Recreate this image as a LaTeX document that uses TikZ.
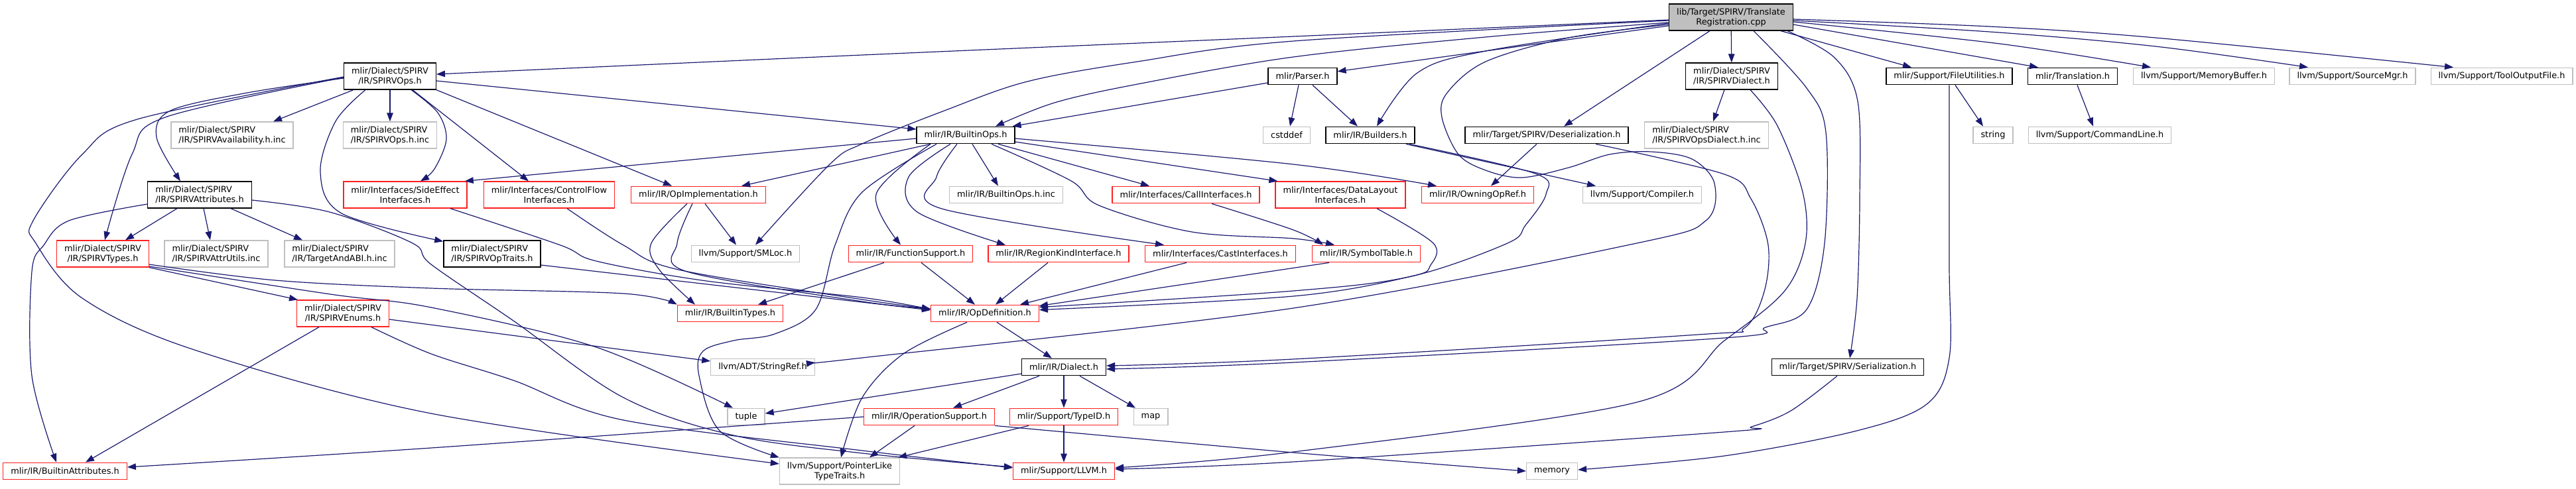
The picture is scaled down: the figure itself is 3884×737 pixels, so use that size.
\documentclass[tikz,border=0pt]{standalone}
\usepackage{fontspec}
\setmainfont{DejaVu Sans}
\usepackage{tikz}
\usetikzlibrary{arrows.meta}
\definecolor{edgeblue}{HTML}{191970}
\definecolor{nodegrey}{HTML}{BFBFBF}
\definecolor{truncred}{HTML}{FF2020}

\begin{document}
\begin{tikzpicture}[
  x=1pt, y=-1pt,
  >={Triangle[length=13pt,width=9.5pt]},
  file/.style={draw, rectangle, line width=1.3pt,
               font=\fontsize{12.9pt}{15pt}\selectfont,
               inner xsep=11.5pt, inner ysep=2pt, minimum height=25.5pt,
               align=center},
  doc/.style={file, draw=black},
  trunc/.style={file, draw=truncred},
  ext/.style={file, draw=nodegrey},
  srcfile/.style={file, draw=black, fill=nodegrey},
  two/.style={minimum height=40pt},
  lft/.style={align=left},
  arr/.style={->, draw=edgeblue, line width=1.2pt},
  crv/.style={arr, smooth, tension=0.55}]

\useasboundingbox (0,0) rectangle (3884,737);

% Source file
\node[srcfile, two] (srcroot) at (2610,26) {lib/Target/SPIRV/Translate\\Registration.cpp};

% Row 1: direct includes
\node[doc, two]      (ops)      at (588,115)  {mlir/Dialect/SPIRV\\/IR/SPIRVOps.h};
\node[doc]           (parser)   at (1964,115) {mlir/Parser.h};
\node[doc, two, lft] (dialspv)  at (2611,115) {mlir/Dialect/SPIRV\\/IR/SPIRVDialect.h};
\node[doc]           (fileutil) at (2939,115) {mlir/Support/FileUtilities.h};
\node[doc]           (transl)   at (3125,115) {mlir/Translation.h};
\node[ext]           (membuf)   at (3323,115) {llvm/Support/MemoryBuffer.h};
\node[ext]           (srcmgr)   at (3547,115) {llvm/Support/SourceMgr.h};
\node[ext]           (toolout)  at (3772,115) {llvm/Support/ToolOutputFile.h};

% Row 2
\node[ext, two, lft] (avail)      at (350,204)  {mlir/Dialect/SPIRV\\/IR/SPIRVAvailability.h.inc};
\node[ext, two, lft] (opsinc)     at (588,204)  {mlir/Dialect/SPIRV\\/IR/SPIRVOps.h.inc};
\node[doc]           (bops)       at (1456,204) {mlir/IR/BuiltinOps.h};
\node[ext]           (cstddef)    at (1940,204) {cstddef};
\node[doc]           (builders)   at (2066,204) {mlir/IR/Builders.h};
\node[doc]           (deser)      at (2332,204) {mlir/Target/SPIRV/Deserialization.h};
\node[ext, two, lft] (opsdialinc) at (2573,204) {mlir/Dialect/SPIRV\\/IR/SPIRVOpsDialect.h.inc};
\node[ext]           (string)     at (3005,204) {string};
\node[ext]           (cmdline)    at (3166,204) {llvm/Support/CommandLine.h};

% Row 3
\node[doc, two, lft] (attrs)    at (301,294)  {mlir/Dialect/SPIRV\\/IR/SPIRVAttributes.h};
\node[trunc, two]    (sideeff)  at (611,294)  {mlir/Interfaces/SideEffect\\Interfaces.h};
\node[trunc, two]    (ctrlflow) at (828,294)  {mlir/Interfaces/ControlFlow\\Interfaces.h};
\node[trunc]         (opimpl)   at (1053,294) {mlir/IR/OpImplementation.h};
\node[ext]           (bopsinc)  at (1517,294) {mlir/IR/BuiltinOps.h.inc};
\node[trunc]         (callif)   at (1788,294) {mlir/Interfaces/CallInterfaces.h};
\node[trunc, two]    (dlayout)  at (2021,294) {mlir/Interfaces/DataLayout\\Interfaces.h};
\node[trunc]         (owning)   at (2228,294) {mlir/IR/OwningOpRef.h};
\node[ext]           (compiler) at (2476,294) {llvm/Support/Compiler.h};

% Row 4
\node[trunc, two]    (types)     at (155,383)  {mlir/Dialect/SPIRV\\/IR/SPIRVTypes.h};
\node[ext, two, lft] (attrutils) at (326,383)  {mlir/Dialect/SPIRV\\/IR/SPIRVAttrUtils.inc};
\node[ext, two, lft] (abi)       at (512,383)  {mlir/Dialect/SPIRV\\/IR/TargetAndABI.h.inc};
\node[doc, two, lft] (optraits)  at (742,383)  {mlir/Dialect/SPIRV\\/IR/SPIRVOpTraits.h};
\node[ext]           (smloc)     at (1124,383) {llvm/Support/SMLoc.h};
\node[trunc]         (funcsup)   at (1373,383) {mlir/IR/FunctionSupport.h};
\node[trunc]         (regkind)   at (1596,383) {mlir/IR/RegionKindInterface.h};
\node[trunc]         (castif)    at (1840,383) {mlir/Interfaces/CastInterfaces.h};
\node[trunc]         (symtab)    at (2060,383) {mlir/IR/SymbolTable.h};

% Rows 5 to 8
\node[trunc, two] (enums)   at (517,473)  {mlir/Dialect/SPIRV\\/IR/SPIRVEnums.h};
\node[trunc]      (btypes)  at (1101,473) {mlir/IR/BuiltinTypes.h};
\node[trunc]      (opdef)   at (1485,473) {mlir/IR/OpDefinition.h};
\node[ext]        (strref)  at (1150,554) {llvm/ADT/StringRef.h};
\node[doc]        (dialect) at (1604,554) {mlir/IR/Dialect.h};
\node[doc]        (serial)  at (2786,554) {mlir/Target/SPIRV/Serialization.h};
\node[ext]        (tuple)   at (1125,629) {tuple};
\node[trunc]      (opsup)   at (1401,629) {mlir/IR/OperationSupport.h};
\node[trunc]      (typeid)  at (1604,629) {mlir/Support/TypeID.h};
\node[ext]        (map)     at (1735,629) {map};
\node[trunc]      (battrs)  at (98,711)   {mlir/IR/BuiltinAttributes.h};
\node[ext, two]   (ptrlike) at (1266,711) {llvm/Support/PointerLike\\TypeTraits.h};
\node[trunc]      (llvmh)   at (1604,711) {mlir/Support/LLVM.h};
\node[ext]        (memory)  at (2340,711) {memory};

% Includes of the source file
\draw[crv] plot coordinates {([yshift=-4pt]srcroot.west) (1950,55) (1300,83) ([yshift=3pt]ops.east)};
\draw[arr] (srcroot) -- (parser);
\draw[crv] plot coordinates {([yshift=-8pt]srcroot.west) (2250,55) (1950,86) (1715,127) (1590,155) ([xshift=45pt]bops.north)};
\draw[crv] plot coordinates {([yshift=-9pt]srcroot.west) (2240,77) (2137,110) ([xshift=10pt]builders.north)};
\draw[arr] ([xshift=-32pt]srcroot.south) -- ([xshift=26pt]deser.north);
\draw[arr] (srcroot) -- (dialspv);
\draw[arr] ([xshift=75pt]srcroot.south) -- ([xshift=-57pt]fileutil.north);
\draw[arr] ([yshift=-11pt]srcroot.east) -- ([xshift=-52pt]transl.north);
\draw[crv] plot coordinates {([yshift=-7pt]srcroot.east) (3015,66) ([xshift=-80pt]membuf.north)};
\draw[crv] plot coordinates {([yshift=-5pt]srcroot.east) (3000,48) (3250,70) ([xshift=-67pt]srcmgr.north)};
\draw[crv] plot coordinates {([yshift=-3pt]srcroot.east) (3000,40) (3250,57) ([xshift=-73pt]toolout.north)};
\draw[crv] plot coordinates {([xshift=85pt]srcroot.south) (2766,87) (2801,153) (2804,300) (2800,450) ([xshift=3pt]serial.north)};
\draw[crv] plot coordinates {([xshift=34pt]srcroot.south) (2724,133) (2753,200) (2751,367) (2724,467) (2662,494) (2600,510) (1950,547) ([yshift=-3pt]dialect.east)};
\draw[crv] plot coordinates {([yshift=-11pt]srcroot.west) (2365,57) (2240,93) (2182,140) (2174,177) (2199,233) (2240,257) (2294,268) (2365,253) (2427,233) (2489,229) (2551,240) (2585,277) (2572,333) (2468,367) (1950,465) (1300,540) ([yshift=7pt]strref.east)};
\draw[crv] plot coordinates {([yshift=-5pt]srcroot.west) (1950,62) (1715,93) (1549,123) (1424,167) (1300,217) (1251,248) ([xshift=15pt]smloc.north)};

% Includes of SPIRVOps.h
\draw[arr] ([xshift=-55pt]ops.south) -- ([xshift=62pt]avail.north);
\draw[arr] (ops) -- (opsinc);
\draw[crv] plot coordinates {([yshift=-3pt]ops.west) (373,140) (257,167) (236,207) ([xshift=-29pt]attrs.north)};
\draw[crv] plot coordinates {([yshift=-2pt]ops.west) (249,177) (199,233) ([xshift=3pt]types.north)};
\draw[crv] plot coordinates {([yshift=-1pt]ops.west) (207,180) (124,233) (50,333) (54,367) (124,450) (290,527) (650,624) ([yshift=11pt]ptrlike.west)};
\draw[crv] plot coordinates {([xshift=-37pt]ops.south) (506,183) (483,260) (515,322) ([yshift=-2pt]optraits.north west)};
\draw[crv] plot coordinates {([xshift=32pt]ops.south) (660,170) (673,210) (655,255) ([xshift=23pt]sideeff.north)};
\draw[arr] ([xshift=34pt]ops.south) -- ([xshift=-31pt]ctrlflow.north);
\draw[arr] (ops.south east) -- ([xshift=-40pt]opimpl.north);
\draw[arr] ([yshift=-7pt]ops.east) -- ([yshift=9pt]bops.west);

% Includes of Parser.h
\draw[arr] ([yshift=-10pt]parser.west) -- ([xshift=-4pt]bops.north east);
\draw[arr] ([xshift=-6pt]parser.south) -- ([xshift=5pt]cstddef.north);
\draw[arr] ([xshift=15pt]parser.south) -- ([xshift=-19pt]builders.north);

% Includes of BuiltinOps.h
\draw[arr] ([yshift=-5pt]bops.west) -- ([xshift=-4pt]sideeff.north east);
\draw[arr] ([xshift=-53pt]bops.south) -- ([xshift=65pt]opimpl.north);
\draw[arr] ([xshift=10pt]bops.south) -- ([xshift=-12pt]bopsinc.north);
\draw[arr] ([xshift=49pt]bops.south) -- ([xshift=-55pt]callif.north);
\draw[arr] ([yshift=-10pt]bops.east) -- ([xshift=4pt]dlayout.north west);
\draw[crv] plot coordinates {([yshift=-5pt]bops.east) (1950,248) ([xshift=-62pt]owning.north)};
\draw[crv] plot coordinates {([xshift=-53pt]bops.south) (1321,293) ([xshift=-15pt]funcsup.north)};
\draw[crv] plot coordinates {([xshift=-23pt]bops.south) (1370,267) (1383,320) ([xshift=-80pt]regkind.north)};
\draw[crv] plot coordinates {([xshift=-13pt]bops.south) (1412,267) (1420,315) ([xshift=-85pt]castif.north)};
\draw[crv] plot coordinates {([xshift=39pt]bops.south) (1615,273) (1657,310) (1797,350) (1950,360) ([xshift=-48pt]symtab.north)};
\draw[crv] plot coordinates {([xshift=-44pt]bops.south) (1300,290) (1259,370) (1230,467) (1168,504) (1106,514) (1060,530) (1054,567) (1085,650) (ptrlike.north west)};
\draw[crv] plot coordinates {([xshift=39pt]callif.south) (1950,347) ([xshift=-65pt]symtab.north)};

% SPIRV dialect, Deserialization, Builders
\draw[arr] ([xshift=-11pt]dialspv.south) -- ([xshift=10pt]opsdialinc.north);
\draw[crv] plot coordinates {([xshift=28pt]dialspv.south) (2680,190) (2718,290) (2722,367) (2690,440) (2600,514) (2468,607) (1950,682) ([yshift=5pt]llvmh.east)};
\draw[arr] ([xshift=-15pt]deser.south) -- ([xshift=20pt]owning.north);
\draw[crv] plot coordinates {([xshift=74pt]deser.south) (2600,263) (2640,300) (2666,370) (2660,440) (2630,495) (2560,505) (1950,542) ([yshift=2pt]dialect.east)};
\draw[arr] ([xshift=54pt]builders.south) -- ([xshift=-70pt]compiler.north);
\draw[crv] plot coordinates {([xshift=59pt]builders.south) (2315,262) (2331,293) (2300,340) (2273,367) (2128,417) (1950,439) ([yshift=-4pt]opdef.north east)};

% Right part
\draw[arr] ([xshift=9pt]fileutil.south) -- ([xshift=-15pt]string.north);
\draw[crv] plot coordinates {(fileutil.south) (2939,400) (2939,540) (2905,610) (2800,650) (2600,688) ([yshift=2pt]memory.east)};
\draw[arr] ([xshift=7pt]transl.south) -- ([xshift=-10pt]cmdline.north);
\draw[crv] plot coordinates {([xshift=-16pt]serial.south) (2700,620) (2641,644) (2600,652) (1950,697) ([yshift=3pt]llvmh.east)};

% Includes of SPIRVAttributes.h, SPIRVTypes.h, SPIRVEnums.h
\draw[arr] ([xshift=-34pt]attrs.south) -- ([xshift=34pt]types.north);
\draw[arr] ([xshift=6pt]attrs.south) -- ([xshift=-9pt]attrutils.north);
\draw[arr] ([xshift=47pt]attrs.south) -- ([xshift=-56pt]abi.north);
\draw[crv] plot coordinates {([yshift=-14pt]attrs.west) (104,333) (66,370) (48,410) (48,567) ([xshift=-13pt]battrs.north)};
\draw[crv] plot coordinates {([yshift=-8pt]attrs.east) (497,320) (622,367) (650,399) (774,484) (940,600) (1106,657) (1300,684) ([yshift=6pt]llvmh.west)};
\draw[arr] (types.south east) -- ([xshift=2pt]enums.north west);
\draw[crv] plot coordinates {([yshift=-16pt]types.east) (415,423) (650,435) (940,443) (btypes.north west)};
\draw[crv] plot coordinates {([yshift=-19pt]types.east) (498,444) (650,464) (899,524) ([xshift=-20pt]tuple.north)};
\draw[arr] ([xshift=-36pt]enums.south) -- ([xshift=31pt]battrs.north);
\draw[arr] ([yshift=-9pt]enums.east) -- ([yshift=9pt]strref.west);
\draw[crv] plot coordinates {([xshift=43pt]enums.south) (650,534) (774,574) (940,634) (1300,680) ([yshift=5pt]llvmh.west)};

% Interfaces and traits into OpDefinition.h
\draw[crv] plot coordinates {([xshift=68pt]sideeff.south) (845,370) (899,394) (1065,424) (1300,449) ([yshift=6pt]opdef.west)};
\draw[crv] plot coordinates {([xshift=27pt]ctrlflow.south) (940,370) (1023,407) (1300,452) ([yshift=7pt]opdef.west)};
\draw[crv] plot coordinates {([xshift=-9pt]opimpl.south) (1021,367) (1036,410) (1300,455) ([yshift=7pt]opdef.west)};
\draw[arr] ([yshift=-17pt]optraits.east) -- ([yshift=5pt]opdef.west);
\draw[crv] plot coordinates {([xshift=-17pt]opimpl.south) (982,367) (994,407) ([xshift=-53pt]btypes.north)};
\draw[arr] ([xshift=10pt]opimpl.south) -- ([xshift=-14pt]smloc.north);
\draw[arr] ([xshift=-40pt]funcsup.south) -- ([xshift=42pt]btypes.north);
\draw[arr] ([xshift=16pt]funcsup.south) -- ([xshift=-15pt]opdef.north);
\draw[arr] ([xshift=-16pt]regkind.south) -- ([xshift=16pt]opdef.north);
\draw[arr] ([xshift=-51pt]castif.south) -- ([xshift=53pt]opdef.north);
\draw[arr] ([xshift=-56pt]symtab.south) -- ([yshift=-2pt]opdef.north east);
\draw[crv] plot coordinates {([xshift=55pt]dlayout.south) (2161,367) (2157,400) (2128,417) (1950,447) ([yshift=-8pt]opdef.north east)};

% Lower core headers
\draw[arr] ([xshift=18pt]opdef.south) -- ([xshift=-18pt]dialect.north);
\draw[crv] plot coordinates {([xshift=-27pt]opdef.south) (1362,534) (1300,600) ([xshift=2pt]ptrlike.north)};
\draw[arr] ([xshift=-37pt]dialect.south) -- ([xshift=36pt]opsup.north);
\draw[arr] (dialect) -- (typeid);
\draw[arr] ([xshift=24pt]dialect.south) -- ([xshift=-23pt]map.north);
\draw[arr] ([yshift=-10pt]dialect.west) -- ([yshift=5pt]tuple.east);
\draw[crv] plot coordinates {(opsup.west) (650,676) ([yshift=6pt]battrs.east)};
\draw[arr] ([xshift=-22pt]opsup.south) -- ([xshift=45pt]ptrlike.north);
\draw[crv] plot coordinates {(opsup.south east) (1950,683) (memory.west)};
\draw[arr] ([xshift=-53pt]typeid.south) -- ([xshift=-3pt]ptrlike.north east);
\draw[arr] (typeid) -- (llvmh);
\end{tikzpicture}
\end{document}
